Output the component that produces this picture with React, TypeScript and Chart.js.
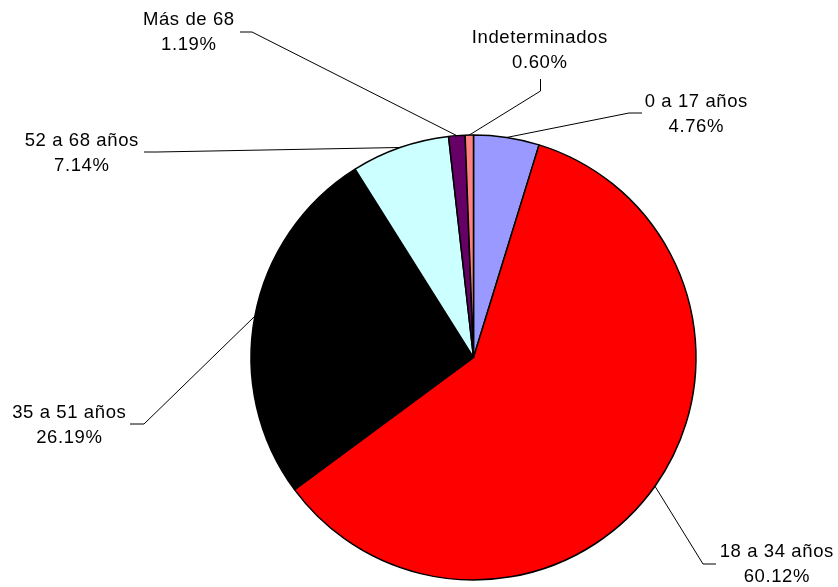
import React, { useEffect, useRef } from "react";
import { Chart, registerables } from "chart.js";

Chart.register(...registerables);

const categories = [
  "0 a 17 años",
  "18 a 34 años",
  "35 a 51 años",
  "52 a 68 años",
  "Más de 68",
  "Indeterminados",
];
const percentValues = [4.76, 60.12, 26.19, 7.14, 1.19, 0.6];
const percentLabels = ["4.76%", "60.12%", "26.19%", "7.14%", "1.19%", "0.60%"];
const sliceColors = ["#9999FF", "#FF0000", "#000000", "#CCFFFF", "#660066", "#FF8080"];

// label placement relative to pie centre: text centre / first baseline, leader elbow, leader end
const labelLayout = [
  { tx: 222.5, ty: -250.5, ex: 155.5, ey: -244.5, fx: 168.5, fy: -244.5 },
  { tx: 303, ty: 199.8, ex: 229.5, ey: 206.5, fx: 242.5, fy: 206.5 },
  { tx: -404.5, ty: 60.5, ex: -329.5, ey: 66.5, fx: -343.5, fy: 66.5 },
  { tx: -392, ty: -211.5, ex: -316.5, ey: -205.5, fx: -329.5, fy: -205.5 },
  { tx: -285, ty: -332.5, ex: -221.5, ey: -325.5, fx: -233.5, fy: -325.5 },
  { tx: 66, ty: -314.2, ex: 67, ey: -266.5, fx: 67, fy: -278.5 },
];

const labelPlugin = {
  id: "excelLabels",
  afterDraw(chart: any) {
    const ctx = chart.ctx as CanvasRenderingContext2D;
    const meta = chart.getDatasetMeta(0);
    ctx.save();
    meta.data.forEach((arc: any, i: number) => {
      const L = labelLayout[i];
      const cx = arc.x;
      const cy = arc.y;
      const mid = (arc.startAngle + arc.endAngle) / 2;
      const R = arc.outerRadius;
      const px = cx + Math.cos(mid) * R;
      const py = cy + Math.sin(mid) * R;
      ctx.strokeStyle = "#000000";
      ctx.lineWidth = 1;
      ctx.beginPath();
      ctx.moveTo(px, py);
      ctx.lineTo(cx + L.ex, cy + L.ey);
      ctx.lineTo(cx + L.fx, cy + L.fy);
      ctx.stroke();
      ctx.fillStyle = "#000000";
      ctx.font = '18.5px "Liberation Sans", Arial, sans-serif';
      (ctx as any).letterSpacing = "0.6px";
      ctx.textAlign = "center";
      ctx.textBaseline = "alphabetic";
      ctx.fillText(categories[i], cx + L.tx + 0.3, cy + L.ty);
      ctx.fillText(percentLabels[i], cx + L.tx + 0.3, cy + L.ty + 25);
    });
    ctx.restore();
  },
};

export default function App() {
  const canvasRef = useRef<HTMLCanvasElement | null>(null);
  useEffect(() => {
    if (!canvasRef.current) return;
    const chart = new Chart(canvasRef.current, {
      type: "pie",
      data: {
        labels: categories,
        datasets: [
          {
            data: percentValues,
            backgroundColor: sliceColors,
            borderColor: "#000000",
            borderWidth: 1.5,
          },
        ],
      },
      options: {
        responsive: false,
        animation: false,
        layout: { padding: { left: 250.25, right: 141.25, top: 134.25, bottom: 6.25 } },
        plugins: {
          legend: { display: false },
          tooltip: { enabled: false },
        },
      },
      plugins: [labelPlugin],
    });
    return () => chart.destroy();
  }, []);
  return (
    <div style={{ position: "absolute", left: 0, top: 0, width: 838, height: 587, background: "#fff" }}>
      <canvas ref={canvasRef} width={838} height={587} />
    </div>
  );
}
